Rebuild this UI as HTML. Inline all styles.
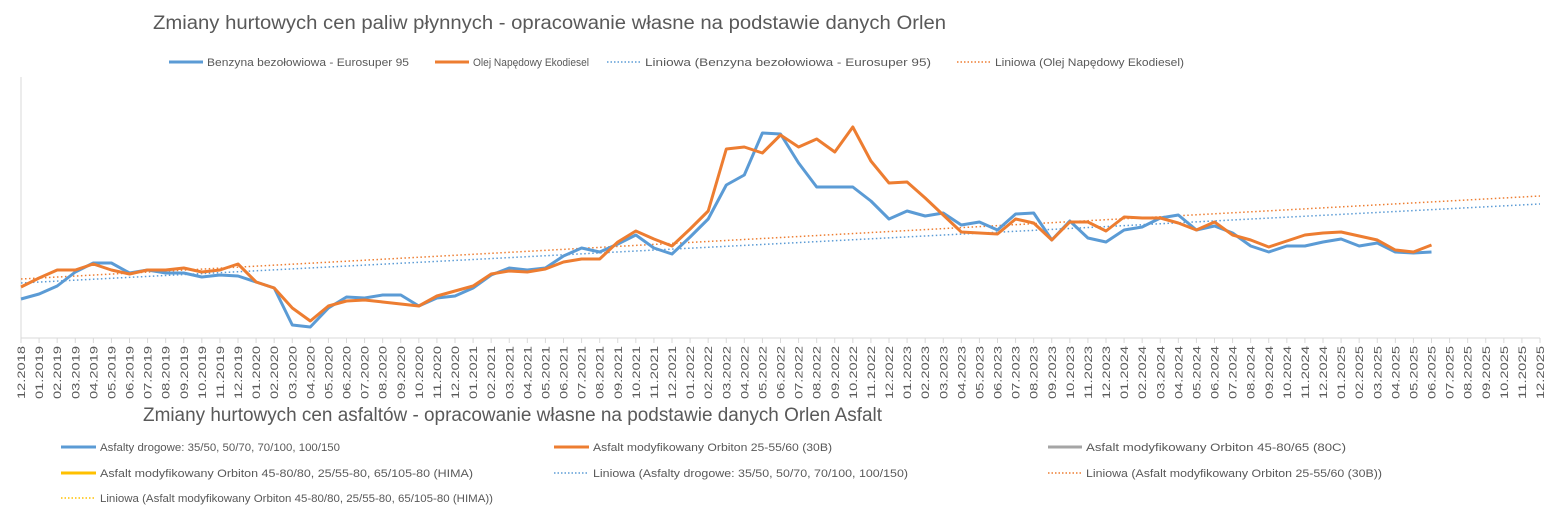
<!DOCTYPE html>
<html><head><meta charset="utf-8"><style>
html,body{margin:0;padding:0;background:#fff;}
svg{display:block;font-family:"Liberation Sans",sans-serif;}
</style></head><body>
<svg id="s" width="1567" height="513" viewBox="0 0 1567 513" xmlns="http://www.w3.org/2000/svg">
<text x="153" y="29" font-size="19" fill="#595959" textLength="793" lengthAdjust="spacingAndGlyphs">Zmiany hurtowych cen paliw płynnych - opracowanie własne na podstawie danych Orlen</text>
<g font-size="11" fill="#595959">
<line x1="169" y1="62" x2="203" y2="62" stroke="#5B9BD5" stroke-width="3"/>
<text x="207" y="66" textLength="202" lengthAdjust="spacingAndGlyphs">Benzyna bezołowiowa - Eurosuper 95</text>
<line x1="435" y1="62" x2="469" y2="62" stroke="#ED7D31" stroke-width="3"/>
<text x="473" y="66" textLength="116" lengthAdjust="spacingAndGlyphs">Olej Napędowy Ekodiesel</text>
<line x1="607" y1="62" x2="641" y2="62" stroke="#5B9BD5" stroke-width="1.5" stroke-dasharray="1.5 2"/>
<text x="645" y="66" textLength="286" lengthAdjust="spacingAndGlyphs">Liniowa (Benzyna bezołowiowa - Eurosuper 95)</text>
<line x1="957" y1="62" x2="991" y2="62" stroke="#ED7D31" stroke-width="1.5" stroke-dasharray="1.5 2"/>
<text x="995" y="66" textLength="189" lengthAdjust="spacingAndGlyphs">Liniowa (Olej Napędowy Ekodiesel)</text>
</g>
<line x1="21" y1="77" x2="21" y2="338" stroke="#d9d9d9" stroke-width="1"/>
<line x1="21" y1="338" x2="1540" y2="338" stroke="#d9d9d9" stroke-width="1"/>
<g id="ticks"></g>
<line x1="21" y1="283" x2="1540" y2="204" stroke="#5B9BD5" stroke-width="1.5" stroke-dasharray="1.5 2.5"/>
<line x1="21" y1="279" x2="1540" y2="196" stroke="#ED7D31" stroke-width="1.5" stroke-dasharray="1.5 2.5"/>
<polyline id="pb" fill="none" stroke="#5B9BD5" stroke-width="3" stroke-linejoin="round"/>
<polyline id="po" fill="none" stroke="#ED7D31" stroke-width="3" stroke-linejoin="round"/>

<text x="143" y="421" font-size="19" fill="#595959" textLength="739" lengthAdjust="spacingAndGlyphs">Zmiany hurtowych cen asfaltów - opracowanie własne na podstawie danych Orlen Asfalt</text>
<g font-size="11" fill="#595959">
<line x1="61" y1="447" x2="96" y2="447" stroke="#5B9BD5" stroke-width="3"/>
<text x="100" y="451" textLength="240" lengthAdjust="spacingAndGlyphs">Asfalty drogowe: 35/50, 50/70, 70/100, 100/150</text>
<line x1="554" y1="447" x2="589" y2="447" stroke="#ED7D31" stroke-width="3"/>
<text x="593" y="451" textLength="239" lengthAdjust="spacingAndGlyphs">Asfalt modyfikowany Orbiton 25-55/60 (30B)</text>
<line x1="1048" y1="447" x2="1082" y2="447" stroke="#A5A5A5" stroke-width="3"/>
<text x="1086" y="451" textLength="260" lengthAdjust="spacingAndGlyphs">Asfalt modyfikowany Orbiton 45-80/65 (80C)</text>
<line x1="61" y1="473" x2="96" y2="473" stroke="#FFC000" stroke-width="3"/>
<text x="100" y="477" textLength="373" lengthAdjust="spacingAndGlyphs">Asfalt modyfikowany Orbiton 45-80/80, 25/55-80, 65/105-80 (HIMA)</text>
<line x1="554" y1="473" x2="589" y2="473" stroke="#5B9BD5" stroke-width="1.5" stroke-dasharray="1.5 2"/>
<text x="593" y="477" textLength="315" lengthAdjust="spacingAndGlyphs">Liniowa (Asfalty drogowe: 35/50, 50/70, 70/100, 100/150)</text>
<line x1="1048" y1="473" x2="1082" y2="473" stroke="#ED7D31" stroke-width="1.5" stroke-dasharray="1.5 2"/>
<text x="1086" y="477" textLength="296" lengthAdjust="spacingAndGlyphs">Liniowa (Asfalt modyfikowany Orbiton 25-55/60 (30B))</text>
<line x1="61" y1="498" x2="96" y2="498" stroke="#FFC000" stroke-width="1.5" stroke-dasharray="1.5 2"/>
<text x="100" y="502" textLength="393" lengthAdjust="spacingAndGlyphs">Liniowa (Asfalt modyfikowany Orbiton 45-80/80, 25/55-80, 65/105-80 (HIMA))</text>
</g>
</svg>
<script>
var NS="http://www.w3.org/2000/svg";
var dx=(1540-21)/84;
var b=[299,294,286,272,263,263,273,270,273,273,277,275,276,282,288,325,327,308,297,298,295,295,306,298,296,288,275,268,270,268,256,248,252,244,235,248,254,237,219,185,175,133,134,163,187,187,187,201,219,211,216,213,225,222,230,214,213,240,221,238,242,230,227,218,215,230,226,233,246,252,246,246,242,239,246,243,252,253,252];
var o=[287,278,270,270,264,270,274,270,270,268,272,270,264,282,288,308,321,306,301,300,302,304,306,296,291,286,274,271,272,269,262,259,259,242,231,239,246,229,211,149,147,153,135,147,139,152,127,161,183,182,198,215,232,233,234,219,223,240,222,222,231,217,218,218,223,230,222,235,240,247,241,235,233,232,236,240,250,252,245];
function pts(a){return a.map(function(y,i){return (21+dx*i).toFixed(1)+","+y;}).join(" ");}
document.getElementById("pb").setAttribute("points",pts(b));
document.getElementById("po").setAttribute("points",pts(o));
var g=document.getElementById("ticks");
for(var i=0;i<=84;i++){
  var x=21+dx*i;
  var l=document.createElementNS(NS,"line");
  l.setAttribute("x1",x);l.setAttribute("x2",x);l.setAttribute("y1",338);l.setAttribute("y2",343);
  l.setAttribute("stroke","#d9d9d9");g.appendChild(l);
  var m=(11+i)%12+1, yr=2018+Math.floor((11+i)/12);
  var s=(m<10?"0":"")+m+"."+yr;
  var t=document.createElementNS(NS,"text");
  t.setAttribute("transform","translate("+(x+4)+",346) rotate(-90)");
  t.setAttribute("text-anchor","end");t.setAttribute("font-size","11");t.setAttribute("fill","#595959");
  t.setAttribute("textLength","53");t.setAttribute("lengthAdjust","spacingAndGlyphs");
  t.textContent=s;g.appendChild(t);
}
</script>
</body></html>
